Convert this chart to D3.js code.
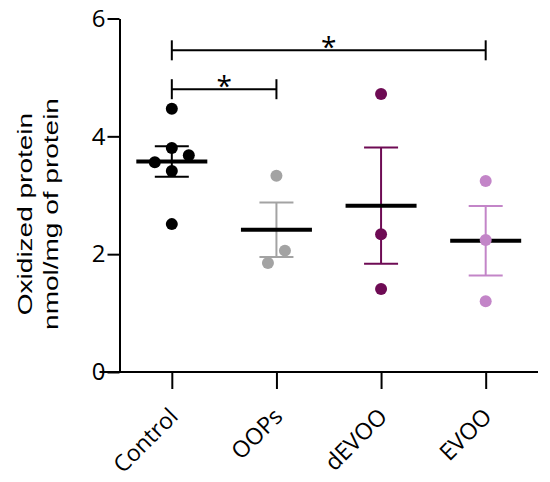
<!DOCTYPE html>
<html lang="en">
<head>
<meta charset="UTF-8" />
<title>Oxidized protein</title>
<script src="https://d3js.org/d3.v7.min.js"></script>
<style>
    body { margin: 0; background: #fff; font-family: "Open Sans", sans-serif; }
    text { fill: #000; }
</style>
</head>
<body>
<div id="chart"></div>
<script>
    // groups and the individual measurements (nmol/mg of protein)
    const groups = ["Control", "OOPs", "dEVOO", "EVOO"];
    const controlValues = [4.47, 3.80, 3.68, 3.56, 3.41, 2.51];
    const oopsValues = [3.33, 2.06, 1.85];
    const devooValues = [4.72, 2.34, 1.41];
    const evooValues = [3.24, 2.24, 1.20];
    const groupColors = ["#000000", "#a3a3a3", "#6e0b54", "#c385c8"];
    const yTicks = [0, 2, 4, 6];
    const comparisons = [["Control", "OOPs", "*"], ["Control", "EVOO", "*"]];

    const values = [controlValues, oopsValues, devooValues, evooValues];

    const W = 550, H = 482;
    const plotLeft = 119.5, plotRight = 538, plotTop = 18.5, plotBottom = 372;

    const svg = d3.select("#chart").append("svg")
        .attr("width", W).attr("height", H);

    const x = d3.scalePoint()
        .domain(groups)
        .range([plotLeft, plotRight])
        .padding(0.5);

    const y = d3.scaleLinear()
        .domain([0, 6])
        .range([plotBottom, plotTop]);

    // Y axis
    const yAxis = svg.append("g")
        .attr("transform", `translate(${plotLeft},0)`)
        .call(d3.axisLeft(y).tickValues(yTicks).tickFormat(d3.format("d"))
            .tickSize(12).tickSizeOuter(0).tickPadding(2));
    yAxis.select(".domain").attr("stroke-width", 2);
    yAxis.selectAll(".tick line").attr("stroke-width", 2);
    yAxis.selectAll("text")
        .style("font-family", "'Open Sans', sans-serif")
        .style("font-size", "24px");

    // X axis
    const xAxis = svg.append("g")
        .attr("transform", `translate(0,${plotBottom})`)
        .call(d3.axisBottom(x).tickSize(17).tickSizeOuter(0));
    xAxis.select(".domain").attr("stroke-width", 2)
        .attr("d", `M${plotLeft - 20},0H${plotRight}`);
    xAxis.selectAll(".tick line").attr("stroke-width", 2);
    xAxis.selectAll("text")
        .style("font-family", "'Open Sans', sans-serif")
        .style("font-size", "23px")
        .attr("text-anchor", "end")
        .attr("x", 0).attr("y", 0).attr("dy", 0)
        .attr("transform", "translate(7,46) rotate(-45)");

    // Y label (narrow sans, drawn tall like the original)
    const ylab = svg.append("text")
        .attr("transform", "translate(0,214) rotate(-90) scale(1.4,1)")
        .attr("text-anchor", "middle")
        .style("font-family", "'Liberation Sans', Arial, sans-serif")
        .style("font-size", "20px");
    ylab.append("tspan").attr("x", 0).attr("y", 32).text("Oxidized protein");
    ylab.append("tspan").attr("x", 0).attr("y", 58).text("nmol/mg of protein");

    // simple beeswarm: column offsets when points collide vertically,
    // then each cluster of touching points is centred on the group
    const r = 6, colStep = 17, clash = 15;
    function dodge(vals) {
        const order = vals.map((v, i) => i).sort((a, b) => vals[b] - vals[a]);
        const placed = [];
        const cols = new Array(vals.length);
        order.forEach(i => {
            for (const c of [0, 1, -1, 2, -2]) {
                const hit = placed.some(p => p.c === c && Math.abs(y(vals[p.i]) - y(vals[i])) < clash);
                if (!hit) { cols[i] = c; placed.push({ i, c }); break; }
            }
        });
        // clusters = runs of neighbours closer than the clash distance
        const clusters = [];
        order.forEach((i, k) => {
            if (k > 0 && Math.abs(y(vals[i]) - y(vals[order[k - 1]])) < clash) clusters[clusters.length - 1].push(i);
            else clusters.push([i]);
        });
        clusters.forEach(cl => {
            const m = d3.mean(cl, i => cols[i]);
            if (m !== 0) cl.forEach(i => { cols[i] = -(cols[i] - m); });
        });
        return cols;
    }

    groups.forEach((g, gi) => {
        const vals = values[gi];
        const color = groupColors[gi];
        const m = d3.mean(vals);
        const sem = d3.deviation(vals) / Math.sqrt(vals.length);
        const cx = x(g);
        const grp = svg.append("g");

        // error bar (mean ± SEM)
        grp.append("line")
            .attr("x1", cx).attr("x2", cx)
            .attr("y1", y(m - sem)).attr("y2", y(m + sem))
            .attr("stroke", color).attr("stroke-width", 2);
        [m - sem, m + sem].forEach(v => {
            grp.append("line")
                .attr("x1", cx - 17).attr("x2", cx + 17)
                .attr("y1", y(v)).attr("y2", y(v))
                .attr("stroke", color).attr("stroke-width", 2);
        });
        // mean
        grp.append("line")
            .attr("x1", cx - 35.5).attr("x2", cx + 35.5)
            .attr("y1", y(m)).attr("y2", y(m))
            .attr("stroke", "#000").attr("stroke-width", 4);

        const cols = dodge(vals);
        grp.selectAll("circle")
            .data(vals)
            .join("circle")
            .attr("cx", (d, i) => cx + cols[i] * colStep)
            .attr("cy", d => y(d))
            .attr("r", r)
            .attr("fill", color);
    });

    // significance brackets
    const bracketBase = 4.8, bracketStep = 0.66;
    comparisons.forEach(([a, b, label], i) => {
        const by = y(bracketBase + i * bracketStep);
        const x1 = x(a), x2 = x(b);
        const br = svg.append("g").attr("stroke", "#000").attr("stroke-width", 2);
        br.append("line").attr("x1", x1).attr("x2", x2).attr("y1", by).attr("y2", by);
        br.append("line").attr("x1", x1).attr("x2", x1).attr("y1", by - 10).attr("y2", by + 10);
        br.append("line").attr("x1", x2).attr("x2", x2).attr("y1", by - 10).attr("y2", by + 10);
        svg.append("text")
            .attr("x", (x1 + x2) / 2)
            .attr("y", by + 7)
            .attr("text-anchor", "middle")
            .style("font-family", "'Open Sans', sans-serif")
            .style("font-size", "28px")
            .text(label);
    });
</script>
</body>
</html>
